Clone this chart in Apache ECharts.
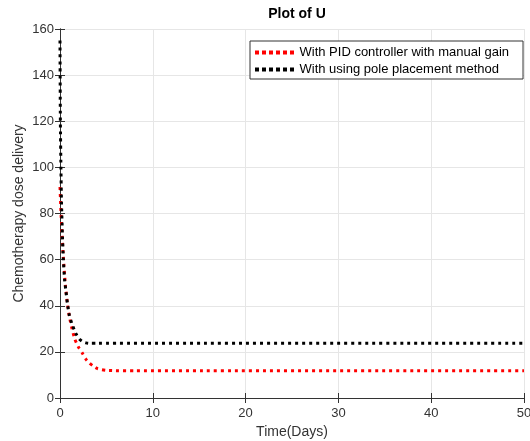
<!DOCTYPE html>
<html>
<head>
<meta charset="utf-8">
<script src="https://cdn.jsdelivr.net/npm/echarts@6/dist/echarts.min.js"></script>
<style>
html,body{margin:0;padding:0;background:#fff;}
#main{width:530px;height:441px;}
</style>
</head>
<body>
<div id="main"></div>
<script>
// time points (days) and control values
var pidTime = [0, 0.1, 0.2, 0.36, 0.6, 0.8, 1.0, 1.3, 1.6, 2.0, 2.4, 2.8, 3.2, 3.6, 4.0, 4.5, 5.0, 6.0, 8.0, 50];
var pidU    = [91.5, 81, 73, 61, 48, 41, 35.5, 30, 25.5, 22, 19.5, 16.8, 15, 13.8, 12.8, 12.3, 12.0, 11.85, 11.8, 11.8];
var poleTime = [0, 0.04, 0.1, 0.16, 0.25, 0.36, 0.5, 0.65, 0.8, 1.0, 1.3, 1.7, 2.1, 2.5, 2.8, 3.2, 4, 50];
var poleU    = [155, 120, 100, 85, 72, 60, 51, 46, 41, 36, 32, 28, 25.5, 24.3, 23.9, 23.7, 23.7, 23.7];
var seriesNames = ['With PID controller with manual gain', 'With using pole placement method'];
var xTicks = [0, 50, 10];   // min, max, step
var yTicks = [0, 160, 20];

function pairs(t, v) {
  var out = [];
  for (var i = 0; i < t.length; i++) out.push([t[i], v[i]]);
  return out;
}

// dotted legend sample, like matlab ':' lines
var dotIcon = 'path://M0,0h4v4h-4z M7,0h4v4h-4z M14,0h4v4h-4z M21,0h4v4h-4z M28,0h4v4h-4z M35,0h4v4h-4z';

var axisCol = '#333333';
var font = 'Liberation Sans, Arial, sans-serif';
var myChart = echarts.init(document.getElementById('main'));
myChart.setOption({
  animation: false,
  title: {
    text: 'Plot of U',
    left: 292,
    top: 2,
    textAlign: 'center',
    textStyle: { fontFamily: font, fontSize: 14, fontWeight: 'bold', color: '#000' }
  },
  grid: { left: 60, right: 6, top: 29, bottom: 43, outerBoundsMode: 'none', containLabel: false },
  legend: {
    orient: 'vertical',
    left: 250,
    top: 41,
    data: [
      { name: seriesNames[0], icon: dotIcon, itemStyle: { color: '#ff0000' } },
      { name: seriesNames[1], icon: dotIcon, itemStyle: { color: '#000' } }
    ],
    backgroundColor: '#fff',
    borderColor: axisCol,
    borderWidth: 1,
    padding: [5, 14, 3, 5],
    itemGap: 4,
    itemWidth: 40,
    itemHeight: 4,
    textStyle: { fontFamily: font, fontSize: 13, color: '#000' }
  },
  xAxis: [{
    type: 'value',
    min: xTicks[0], max: xTicks[1], interval: xTicks[2],
    name: 'Time(Days)',
    nameLocation: 'middle',
    nameGap: 27,
    nameMoveOverlap: false,
    nameTextStyle: { fontFamily: font, fontSize: 14, color: axisCol },
    axisLine: { show: true, lineStyle: { color: axisCol } },
    axisTick: { show: true, inside: true, length: 5, lineStyle: { color: axisCol } },
    axisLabel: { fontFamily: font, fontSize: 13, color: axisCol, margin: 9 },
    splitLine: { show: true, lineStyle: { color: '#e6e6e6' } }
  }, {
    type: 'value', position: 'top',
    min: xTicks[0], max: xTicks[1], interval: xTicks[2],
    axisLine: { show: true, lineStyle: { color: axisCol } },
    axisTick: { show: true, inside: true, length: 5, lineStyle: { color: axisCol } },
    axisLabel: { show: false },
    splitLine: { show: false }
  }],
  yAxis: [{
    type: 'value',
    min: yTicks[0], max: yTicks[1], interval: yTicks[2],
    name: 'Chemotherapy dose delivery',
    nameLocation: 'middle',
    nameGap: 34,
    nameMoveOverlap: false,
    nameTextStyle: { fontFamily: font, fontSize: 14, color: axisCol },
    axisLine: { show: true, lineStyle: { color: axisCol } },
    axisTick: { show: true, inside: true, length: 5, lineStyle: { color: axisCol } },
    axisLabel: { fontFamily: font, fontSize: 13, color: axisCol, margin: 6 },
    splitLine: { show: true, lineStyle: { color: '#e6e6e6' } }
  }, {
    type: 'value', position: 'right',
    min: yTicks[0], max: yTicks[1], interval: yTicks[2],
    axisLine: { show: true, lineStyle: { color: axisCol } },
    axisTick: { show: true, inside: true, length: 5, lineStyle: { color: axisCol } },
    axisLabel: { show: false },
    splitLine: { show: false }
  }],
  series: [{
    name: seriesNames[0],
    type: 'line',
    data: pairs(pidTime, pidU),
    symbol: 'none',
    smooth: 0.2,
    z: 3,
    itemStyle: { color: '#ff0000' },
    lineStyle: { color: '#ff0000', width: 3, type: [3, 4], cap: 'butt' }
  }, {
    name: seriesNames[1],
    type: 'line',
    data: pairs(poleTime, poleU),
    symbol: 'none',
    smooth: 0.2,
    z: 4,
    itemStyle: { color: '#000' },
    lineStyle: { color: '#000', width: 3, type: [3, 4], cap: 'butt' }
  }]
});
</script>
</body>
</html>
